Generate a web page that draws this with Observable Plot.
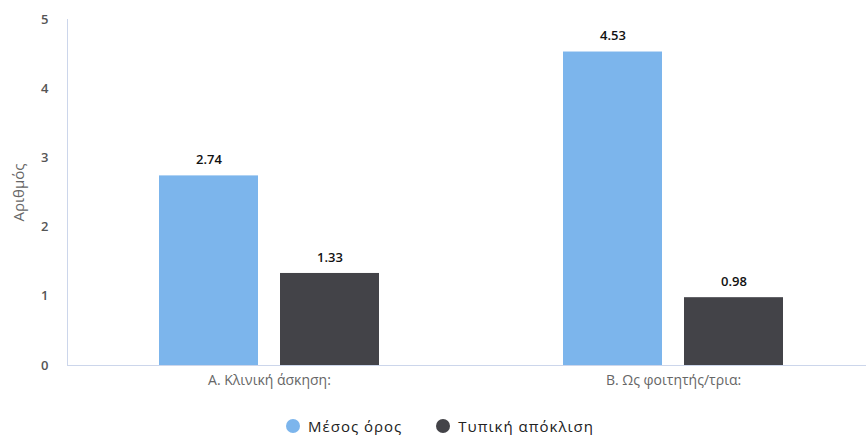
<!DOCTYPE html>
<html><head><meta charset="utf-8">
<script src="https://cdn.jsdelivr.net/npm/d3@7"></script>
<script src="https://cdn.jsdelivr.net/npm/@observablehq/plot@0.6"></script>
<style>
body{margin:0;background:#fff;font-family:"Open Sans","DejaVu Sans",sans-serif;}
#legend{display:flex;justify-content:center;gap:34px;height:35px;padding-top:8px;align-items:center;font-size:15px;font-weight:normal;color:#222;padding-left:14px;letter-spacing:1px;}
#legend span.item{display:flex;align-items:center;gap:8px;}
#legend span.dot{width:14px;height:14px;border-radius:50%;display:inline-block;}
</style></head>
<body><div id="chart"></div><div id="legend"></div>
<script>
const categories = ["Α. Κλινική άσκηση:", "Β. Ως φοιτητής/τρια:"];
const series = ["Μέσος όρος", "Τυπική απόκλιση"];
const meanValues = [2.74, 4.53];
const sdValues = [1.33, 0.98];
const colors = ["#7cb5ec", "#434348"];
const yTicks = [0, 1, 2, 3, 4, 5];

const data = [];
categories.forEach((c, i) => {
  data.push({cat: c, series: series[0], value: meanValues[i]});
  data.push({cat: c, series: series[1], value: sdValues[i]});
});

const chart = Plot.plot({
  width: 866, height: 400,
  marginTop: 19, marginBottom: 35, marginLeft: 67, marginRight: 0,
  style: {fontFamily: "Open Sans, DejaVu Sans, sans-serif", fontSize: "13px"},
  fx: {domain: categories, range: [67, 875], paddingInner: 0, paddingOuter: 0, label: null, axis: null},
  x: {domain: series, paddingInner: 0.18, paddingOuter: 0.746, axis: null},
  y: {domain: [0, 5], ticks: yTicks, label: "Αριθμός"},
  color: {domain: series, range: colors},
  marks: [
    Plot.frame({anchor: "left", facetAnchor: "left", stroke: "#ccd6eb", strokeOpacity: 1}),
    Plot.frame({anchor: "bottom", stroke: "#ccd6eb", strokeOpacity: 1}),
    Plot.barY(data, {fx: "cat", x: "series", y: "value", fill: "series"}),
    Plot.text(data, {fx: "cat", x: "series", y: "value", text: d => d.value.toFixed(2), dy: -16, fill: "#111", fontSize: 13, fontWeight: 600, style: "letter-spacing:1.5px"}),
    Plot.axisY({ticks: yTicks, tickFormat: "d", tickSize: 0, tickPadding: 19, fill: "#555", fontSize: 13, fontWeight: 600, label: null}),
    Plot.axisY({ticks: [], tickSize: 0, fill: "#666", fontSize: 15, label: "Αριθμός", labelAnchor: "center", labelArrow: "none", labelOffset: 54, style: "letter-spacing:0.5px"}),
    Plot.axisFx({anchor: "bottom", tickSize: 0, tickPadding: 10, fill: "#666", fontSize: 14, style: "letter-spacing:1.4px", label: null})
  ]
});
document.getElementById("chart").appendChild(chart);

const legend = document.getElementById("legend");
series.forEach((s, i) => {
  const item = document.createElement("span");
  item.className = "item";
  item.innerHTML = `<span class="dot" style="background:${colors[i]}"></span><span>${s}</span>`;
  legend.appendChild(item);
});
</script></body></html>
